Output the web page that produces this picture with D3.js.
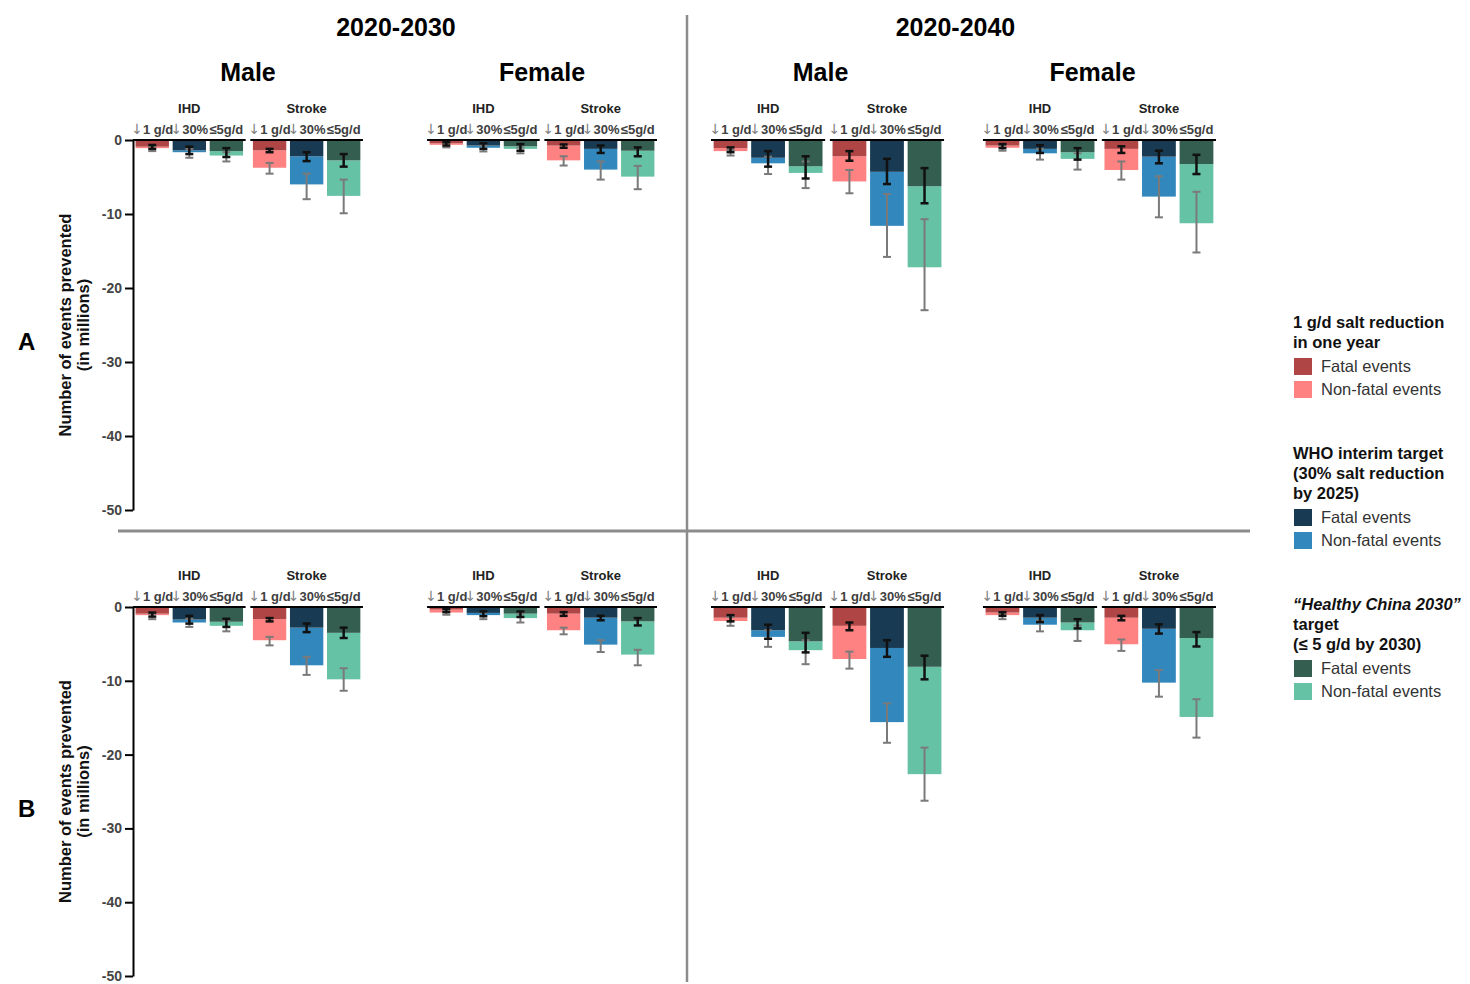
<!DOCTYPE html>
<html><head><meta charset="utf-8">
<script src="https://cdn.jsdelivr.net/npm/d3@7"></script>
<style>body{margin:0;background:#fff} svg{display:block;font-family:"Liberation Sans",Arial,sans-serif}</style>
</head><body><svg id="chart" width="1470" height="984"></svg>
<script>
const panels = ["A", "B"];
const periods = ["2020-2030", "2020-2040"];
const sexes = ["Male", "Female"];
const diseases = ["IHD", "Stroke"];
const scenarios = ["1g", "30", "5"];
const scenarioArrows = ["↓", "↓", ""];
const scenarioTexts = ["1 g/d", "30%", "≤5g/d"];
const yTicks = [0, -10, -20, -30, -40, -50];

// order in each array: Male IHD(1g,30%,≤5), Male Stroke(...), Female IHD(...), Female Stroke(...)
const fatal_A_2030 = [-0.9,-1.4,-1.5, -1.4,-2.2,-2.75, -0.45,-0.75,-0.85, -0.75,-1.2,-1.45];
const total_A_2030 = [-1.1,-1.65,-2.1, -3.75,-6.0,-7.55, -0.65,-1.05,-1.2, -2.75,-4.0,-4.95];
const fLo_A_2030 = [-0.67,-0.9,-1.1, -1.2,-1.65,-1.9, -0.3,-0.45,-0.55, -0.6,-0.75,-1.0];
const fHi_A_2030 = [-1.2,-1.9,-2.3, -1.65,-2.85,-3.6, -0.75,-1.2,-1.45, -1.05,-1.75,-2.2];
const tLo_A_2030 = [-0.85,-1.2,-1.65, -3.1,-4.55,-5.35, -0.45,-0.75,-1.0, -2.2,-2.9,-3.5];
const tHi_A_2030 = [-1.5,-2.4,-2.9, -4.55,-8.0,-9.9, -1.0,-1.55,-1.8, -3.45,-5.35,-6.65];

const fatal_A_2040 = [-1.1,-2.4,-3.55, -2.2,-4.3,-6.25, -0.75,-1.2,-1.65, -1.2,-2.25,-3.25];
const total_A_2040 = [-1.5,-3.15,-4.45, -5.6,-11.6,-17.2, -1.05,-1.8,-2.55, -4.05,-7.65,-11.25];
const fLo_A_2040 = [-1.0,-1.5,-2.2, -1.5,-2.55,-3.8, -0.55,-0.7,-1.1, -0.85,-1.45,-2.0];
const fHi_A_2040 = [-1.65,-3.6,-5.2, -2.8,-5.95,-8.55, -1.1,-1.75,-2.65, -1.75,-3.15,-4.6];
const tLo_A_2040 = [-1.35,-2.25,-2.9, -4.05,-7.3,-10.7, -0.75,-1.2,-1.8, -2.9,-4.9,-7.0];
const tHi_A_2040 = [-2.1,-4.6,-6.5, -7.2,-15.8,-23.0, -1.45,-2.65,-4.0, -5.35,-10.45,-15.2];

const fatal_B_2030 = [-0.9,-1.7,-2.0, -1.65,-2.8,-3.5, -0.35,-0.8,-0.9, -0.9,-1.45,-1.95];
const total_B_2030 = [-1.1,-2.1,-2.55, -4.5,-7.9,-9.8, -0.75,-1.1,-1.5, -3.15,-5.1,-6.45];
const fLo_B_2030 = [-0.75,-1.2,-1.6, -1.5,-2.25,-2.8, -0.25,-0.6,-0.6, -0.7,-1.2,-1.5];
const fHi_B_2030 = [-1.3,-2.25,-2.7, -1.95,-3.4,-4.2, -0.7,-1.25,-1.35, -1.2,-1.8,-2.5];
const tLo_B_2030 = [-0.9,-1.6,-1.95, -4.05,-6.75,-8.3, -0.45,-0.75,-0.9, -2.8,-4.5,-5.8];
const tHi_B_2030 = [-1.65,-2.7,-3.3, -5.2,-9.2,-11.35, -1.05,-1.65,-2.1, -3.7,-6.1,-7.9];

const fatal_B_2040 = [-1.45,-3.15,-4.65, -2.55,-5.55,-8.1, -0.75,-1.45,-2.1, -1.45,-2.95,-4.2];
const total_B_2040 = [-1.9,-4.05,-5.85, -7.05,-15.6,-22.65, -1.1,-2.4,-3.15, -5.05,-10.25,-14.9];
const fLo_B_2040 = [-1.1,-2.4,-3.5, -2.1,-4.5,-6.6, -0.7,-1.1,-1.65, -1.2,-2.35,-3.4];
const fHi_B_2040 = [-1.95,-4.3,-6.15, -3.15,-6.75,-9.8, -1.2,-2.05,-2.9, -1.8,-3.6,-5.35];
const tLo_B_2040 = [-1.35,-3.15,-4.5, -6.05,-13.05,-19.05, -0.9,-1.8,-2.5, -4.4,-8.55,-12.5];
const tHi_B_2040 = [-2.55,-5.4,-7.75, -8.35,-18.4,-26.25, -1.65,-3.3,-4.6, -5.95,-12.15,-17.7];

const fatalColors = ["#B04545", "#183A52", "#335E50"];
const nonfatalColors = ["#FF8282", "#3288BD", "#66C2A5"];
const legendTitles = [
  ["1 g/d salt reduction", "in one year"],
  ["WHO interim target", "(30% salt reduction", "by 2025)"],
  ["“Healthy China 2030”", "target", "(≤ 5 g/d by 2030)"]
];
const legendItems = ["Fatal events", "Non-fatal events"];

// lookup table built from arrays
const table = {
  "A|2020-2030": {fatal: fatal_A_2030, total: total_A_2030, fLo: fLo_A_2030, fHi: fHi_A_2030, tLo: tLo_A_2030, tHi: tHi_A_2030},
  "A|2020-2040": {fatal: fatal_A_2040, total: total_A_2040, fLo: fLo_A_2040, fHi: fHi_A_2040, tLo: tLo_A_2040, tHi: tHi_A_2040},
  "B|2020-2030": {fatal: fatal_B_2030, total: total_B_2030, fLo: fLo_B_2030, fHi: fHi_B_2030, tLo: tLo_B_2030, tHi: tHi_B_2030},
  "B|2020-2040": {fatal: fatal_B_2040, total: total_B_2040, fLo: fLo_B_2040, fHi: fHi_B_2040, tLo: tLo_B_2040, tHi: tHi_B_2040}
};

// layout
const svg = d3.select("#chart");
svg.append("rect").attr("width", 1470).attr("height", 984).attr("fill", "#fff");
const panelRange = {A: [140, 510], B: [607, 976]};
const panelLetterY = {A: 350, B: 817};
const periodRange = {"2020-2030": [133, 657], "2020-2040": [711, 1216]};
const sexPad = {"2020-2030": 0.218, "2020-2040": 0.143};
const titleShift = {"2020-2030": 0, "2020-2040": -7};
const periodShift = {"2020-2030": 1, "2020-2040": -8};

// dividers
svg.append("line").attr("x1", 687).attr("x2", 687).attr("y1", 15).attr("y2", 982)
  .attr("stroke", "#8c8c8c").attr("stroke-width", 2.5);
svg.append("line").attr("x1", 118).attr("x2", 1250).attr("y1", 531).attr("y2", 531)
  .attr("stroke", "#8c8c8c").attr("stroke-width", 3);

function errBar(g, cx, y1, y2, color, sw) {
  g.append("line").attr("x1", cx).attr("x2", cx).attr("y1", y1).attr("y2", y2)
    .attr("stroke", color).attr("stroke-width", sw);
  [y1, y2].forEach(yy => g.append("line").attr("x1", cx - 4).attr("x2", cx + 4)
    .attr("y1", yy).attr("y2", yy).attr("stroke", color).attr("stroke-width", sw));
}

// titles
periods.forEach(pd => {
  const r = periodRange[pd];
  svg.append("text").attr("x", (r[0] + r[1]) / 2 + periodShift[pd]).attr("y", 36).attr("text-anchor", "middle")
    .attr("font-size", 25).attr("font-weight", "bold").attr("fill", "#000").text(pd);
  const xSex = d3.scaleBand().domain(sexes).range(r).paddingInner(sexPad[pd]);
  sexes.forEach(sx => {
    svg.append("text").attr("x", xSex(sx) + xSex.bandwidth() / 2 + titleShift[pd]).attr("y", 81)
      .attr("text-anchor", "middle").attr("font-size", 25).attr("font-weight", "bold").attr("fill", "#000").text(sx);
  });
});

panels.forEach(pn => {
  const y = d3.scaleLinear().domain([0, -50]).range(panelRange[pn]);
  const gAx = svg.append("g").attr("transform", "translate(133,0)")
    .call(d3.axisLeft(y).tickValues(yTicks).tickSize(8).tickSizeOuter(0).tickPadding(3).tickFormat(d => String(d)));
  gAx.select(".domain").attr("stroke", "#000").attr("stroke-width", 2);
  gAx.selectAll(".tick line").attr("stroke", "#000").attr("stroke-width", 2);
  gAx.selectAll(".tick text").attr("font-size", 14).attr("font-weight", "bold").attr("fill", "#444")
    .attr("font-family", "Liberation Sans, Arial, sans-serif");

  // panel letter
  svg.append("text").attr("x", 18).attr("y", panelLetterY[pn]).attr("font-size", 24)
    .attr("font-weight", "bold").attr("fill", "#000").text(pn);
  // y label
  const cy = (panelRange[pn][0] + panelRange[pn][1]) / 2;
  svg.append("text").attr("transform", `translate(71,${cy}) rotate(-90)`)
    .attr("text-anchor", "middle").attr("font-size", 16.5).attr("font-weight", "bold").attr("fill", "#111")
    .text("Number of events prevented");
  svg.append("text").attr("transform", `translate(89,${cy}) rotate(-90)`)
    .attr("text-anchor", "middle").attr("font-size", 16.5).attr("font-weight", "bold").attr("fill", "#111")
    .text("(in millions)");

  periods.forEach(pd => {
    const d = table[pn + "|" + pd];
    const xSex = d3.scaleBand().domain(sexes).range(periodRange[pd]).paddingInner(sexPad[pd]);
    sexes.forEach((sx, si) => {
      const xDis = d3.scaleBand().domain(diseases).range([xSex(sx), xSex(sx) + xSex.bandwidth()]).paddingInner(0.04);
      diseases.forEach((ds, di) => {
        const x0 = xDis(ds), x1 = x0 + xDis.bandwidth();
        const xSc = d3.scaleBand().domain(scenarios).range([x0, x1]).paddingInner(0.1).paddingOuter(0.07);
        const g = svg.append("g");
        g.append("text").attr("x", (x0 + x1) / 2).attr("y", y(0) - 27).attr("text-anchor", "middle")
          .attr("font-size", 13).attr("font-weight", "bold").attr("fill", "#222").text(ds);
        scenarios.forEach((sc, k) => {
          const idx = si * 6 + di * 3 + k;
          const bx = xSc(sc), bw = xSc.bandwidth(), cx = bx + bw / 2;
          const t = g.append("text").attr("x", cx).attr("y", y(0) - 6).attr("text-anchor", "middle")
            .attr("font-size", 13).attr("font-weight", "bold").attr("fill", "#404040");
          if (scenarioArrows[k]) t.append("tspan").attr("fill", "#808080").attr("font-weight", "normal")
            .attr("font-family", "DejaVu Sans").attr("font-size", 14).text(scenarioArrows[k]);
          t.append("tspan").text(scenarioTexts[k]);
          // non-fatal part
          g.append("rect").attr("x", bx).attr("width", bw)
            .attr("y", y(d.fatal[idx])).attr("height", y(d.total[idx]) - y(d.fatal[idx]))
            .attr("fill", nonfatalColors[k]);
          // fatal part
          g.append("rect").attr("x", bx).attr("width", bw)
            .attr("y", y(0)).attr("height", y(d.fatal[idx]) - y(0))
            .attr("fill", fatalColors[k]);
        });
        scenarios.forEach((sc, k) => {
          const idx = si * 6 + di * 3 + k;
          const cx = xSc(sc) + xSc.bandwidth() / 2;
          errBar(g, cx, y(d.tLo[idx]), y(d.tHi[idx]), "#7a7a7a", 2);
        });
        scenarios.forEach((sc, k) => {
          const idx = si * 6 + di * 3 + k;
          const cx = xSc(sc) + xSc.bandwidth() / 2;
          errBar(g, cx, y(d.fLo[idx]), y(d.fHi[idx]), "#111", 2.5);
        });
        // baseline line
        g.append("line").attr("x1", x0).attr("x2", x1).attr("y1", y(0)).attr("y2", y(0))
          .attr("stroke", "#000").attr("stroke-width", 2);
      });
    });
  });
});

// legend
const legendTop = [328, 459, 610];
const lg = svg.append("g");
legendTitles.forEach((lines, k) => {
  const yy = legendTop[k];
  lines.forEach((ln, li) => {
    lg.append("text").attr("x", 1293).attr("y", yy + li * 20).attr("font-size", 16.5)
      .attr("font-weight", "bold").attr("font-style", (k === 2 && li === 0) ? "italic" : "normal")
      .attr("fill", "#111").text(ln);
  });
  const base = yy + (lines.length - 1) * 20 + 24;
  legendItems.forEach((it, j) => {
    const by = base + j * 23;
    lg.append("rect").attr("x", 1294).attr("y", by - 14).attr("width", 18).attr("height", 17)
      .attr("fill", j === 0 ? fatalColors[k] : nonfatalColors[k]);
    lg.append("text").attr("x", 1321).attr("y", by).attr("font-size", 16.5).attr("fill", "#333").text(it);
  });
});
</script></body></html>
